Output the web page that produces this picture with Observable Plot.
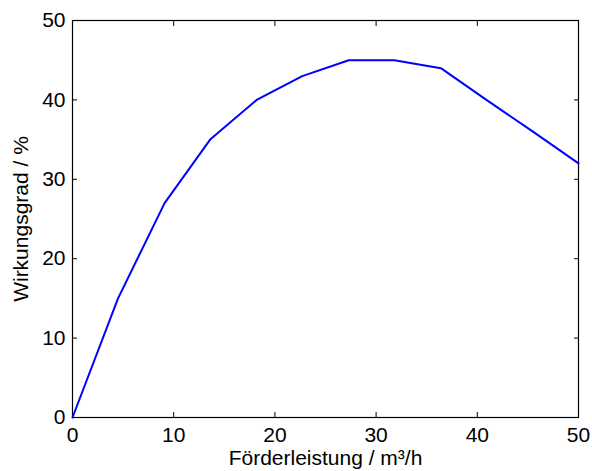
<!DOCTYPE html>
<html>
<head>
<meta charset="utf-8">
<script src="https://cdn.jsdelivr.net/npm/d3@7"></script>
<script src="https://cdn.jsdelivr.net/npm/@observablehq/plot@0.6"></script>
<style>
  html, body { margin: 0; padding: 0; background: #fff; }
  svg { display: block; }
</style>
</head>
<body>
<div id="chart"></div>
<script>
const flow = [0, 4.5, 9.1, 13.6, 18.2, 22.7, 27.3, 31.8, 36.4, 40.9, 45.5, 50];
const efficiency = [0, 15, 27, 35, 40, 43, 45, 45, 44, 40, 36, 32];
const xTicks = [0, 10, 20, 30, 40, 50];
const yTicks = [0, 10, 20, 30, 40, 50];
const xLabel = "Förderleistung / m³/h";
const yLabel = "Wirkungsgrad / %";

const data = flow.map((x, i) => ({x, y: efficiency[i]}));

const chart = Plot.plot({
  width: 592,
  height: 471,
  marginLeft: 72,
  marginRight: 14,
  marginTop: 20,
  marginBottom: 54,
  style: {fontFamily: "'Liberation Sans', Arial, sans-serif", fontSize: "21px", color: "#000", background: "#fff"},
  x: {domain: [0, 50]},
  y: {domain: [0, 50]},
  marks: [
    Plot.axisX(xTicks, {anchor: "bottom", tickSize: -5, tickPadding: 15, label: xLabel, labelAnchor: "center", labelArrow: "none", labelOffset: 47, fontSize: 21}),
    Plot.axisX(xTicks, {anchor: "top", tickSize: -5, tickFormat: () => "", label: null}),
    Plot.axisY(yTicks, {anchor: "left", tickSize: -5, tickPadding: 12, label: yLabel, labelAnchor: "center", labelArrow: "none", labelOffset: 59, fontSize: 21}),
    Plot.axisY(yTicks, {anchor: "right", tickSize: -5, tickFormat: () => "", label: null}),
    Plot.frame({stroke: "#000", strokeWidth: 1.2}),
    Plot.line(data, {x: "x", y: "y", stroke: "#0000ff", strokeWidth: 2})
  ]
});
document.getElementById("chart").appendChild(chart);
</script>
</body>
</html>
